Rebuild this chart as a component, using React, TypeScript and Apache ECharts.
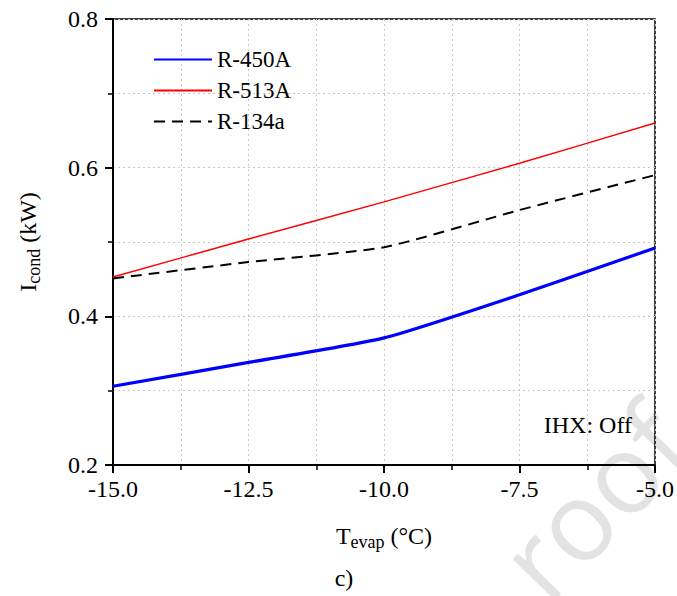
import React, { useEffect, useRef } from "react";
import * as echarts from "echarts";

const tEvap = [-15, -12.5, -10, -7.5, -5];
const r450A = [0.306, 0.338, 0.371, 0.429, 0.492];
const r513A = [0.453, 0.504, 0.554, 0.606, 0.66];
const r134a = [0.451, 0.473, 0.493, 0.543, 0.59];
const seriesNames = ["R-450A", "R-513A", "R-134a"];

const FONT = "Liberation Serif";

export default function App() {
  const ref = useRef<HTMLDivElement>(null);
  useEffect(() => {
    if (!ref.current) return;
    const chart = echarts.init(ref.current, undefined, { renderer: "svg" });
    const pair = (ys: number[]) => tEvap.map((x, i) => [x, ys[i]]);
    const gridLine = { show: true, lineStyle: { color: "#c8c8c8", type: [2, 3], width: 1 } };
    chart.setOption({
      animation: false,
      backgroundColor: "#fff",
      textStyle: { fontFamily: FONT },
      grid: {
        left: 113,
        right: 20,
        top: 19,
        bottom: 131,
        show: true,
        borderColor: "#000",
        borderWidth: 1.5,
        backgroundColor: "transparent",
      },
      legend: {
        orient: "vertical",
        left: 148,
        top: 43,
        itemWidth: 58,
        itemHeight: 14,
        itemGap: 8,
        data: seriesNames,
        itemStyle: { opacity: 0 },
        textStyle: { fontFamily: FONT, fontSize: 23, color: "#000" },
      },
      xAxis: {
        type: "value",
        min: -15,
        max: -5,
        interval: 2.5,
        axisLine: { show: true, lineStyle: { color: "#000", width: 2 } },
        axisTick: { show: true, length: 8, lineStyle: { color: "#000", width: 2 } },
        minorTick: { show: true, splitNumber: 2, length: 5, lineStyle: { color: "#000", width: 1.5 } },
        splitLine: gridLine,
        minorSplitLine: gridLine,
        axisLabel: {
          fontFamily: FONT,
          fontSize: 24,
          color: "#000",
          margin: 12,
          formatter: (v: number) => v.toFixed(1),
        },
        name: "{a|T}{s|evap}{a| (°C)}",
        nameLocation: "middle",
        nameGap: 56,
        nameTextStyle: {
          rich: {
            a: { fontFamily: FONT, fontSize: 24, color: "#000" },
            s: { fontFamily: FONT, fontSize: 18, color: "#000", verticalAlign: "bottom", padding: [12, 0, 0, 0] },
          },
        },
      },
      yAxis: {
        type: "value",
        min: 0.2,
        max: 0.8,
        interval: 0.2,
        axisLine: { show: true, lineStyle: { color: "#000", width: 2 } },
        axisTick: { show: true, length: 8, lineStyle: { color: "#000", width: 2 } },
        minorTick: { show: true, splitNumber: 2, length: 5, lineStyle: { color: "#000", width: 1.5 } },
        splitLine: gridLine,
        minorSplitLine: gridLine,
        axisLabel: {
          fontFamily: FONT,
          fontSize: 24,
          color: "#000",
          margin: 15,
          formatter: (v: number) => v.toFixed(1),
        },
        name: "{a|I}{s|cond}{a| (kW)}",
        nameLocation: "middle",
        nameGap: 70,
        nameRotate: 90,
        nameTextStyle: {
          rich: {
            a: { fontFamily: FONT, fontSize: 24, color: "#000" },
            s: { fontFamily: FONT, fontSize: 18, color: "#000", verticalAlign: "bottom", padding: [12, 0, 0, 0] },
          },
        },
      },
      graphic: [
        {
          type: "text",
          z: -10,
          x: 592,
          y: 500,
          rotation: (46 * Math.PI) / 180,
          style: {
            text: "roof",
            fontFamily: "Open Sans",
            fontSize: 110,
            fill: "#e3e3e3",
            align: "center",
            verticalAlign: "middle",
          },
        },
        {
          type: "text",
          x: 632,
          y: 425,
          style: {
            text: "IHX: Off",
            fontFamily: FONT,
            fontSize: 24,
            fill: "#000",
            align: "right",
            verticalAlign: "middle",
          },
        },
        {
          type: "text",
          x: 344,
          y: 578,
          style: {
            text: "c)",
            fontFamily: FONT,
            fontSize: 24,
            fill: "#000",
            align: "center",
            verticalAlign: "middle",
          },
        },
      ],
      series: [
        {
          name: seriesNames[0],
          type: "line",
          data: pair(r450A),
          symbol: "none",
          smooth: 0.2,
          lineStyle: { color: "#0000ff", width: 3.2 },
          itemStyle: { color: "#0000ff" },
          z: 4,
        },
        {
          name: seriesNames[1],
          type: "line",
          data: pair(r513A),
          symbol: "none",
          smooth: 0.2,
          lineStyle: { color: "#ff0000", width: 1.5 },
          itemStyle: { color: "#ff0000" },
          z: 3,
        },
        {
          name: seriesNames[2],
          type: "line",
          data: pair(r134a),
          symbol: "none",
          smooth: 0.2,
          lineStyle: { color: "#000", width: 2, type: [11, 7] },
          itemStyle: { color: "#000" },
          z: 5,
        },
      ],
    });
    return () => chart.dispose();
  }, []);
  return <div ref={ref} style={{ width: 677, height: 596, position: "absolute", left: 0, top: 0 }} />;
}
